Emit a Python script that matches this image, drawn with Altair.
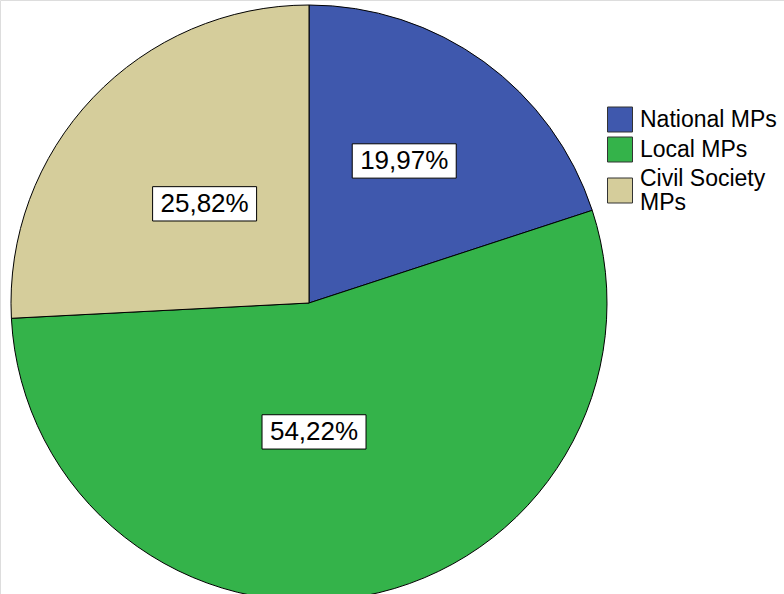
import altair as alt
import pandas as pd

categories = ["National MPs", "Local MPs", "Civil Society MPs"]
percentages = [19.97, 54.22, 25.82]
labels = ["19,97%", "54,22%", "25,82%"]
colors = ["#3f58ad", "#34b34a", "#d5cd9b"]

df = pd.DataFrame({"category": categories, "value": percentages,
                   "label": labels, "idx": list(range(len(categories)))})

CX, CY, R = 309, 303, 298
FONT = "Liberation Sans"

color_scale = alt.Scale(domain=categories, range=colors)

base = alt.Chart(df)

pie = base.mark_arc(outerRadius=R, stroke="black", strokeWidth=1).encode(
    theta=alt.Theta("value:Q", stack=True),
    color=alt.Color("category:N", scale=color_scale, sort=categories, legend=None),
    order=alt.Order("idx:Q"),
    x=alt.value(CX),
    y=alt.value(CY),
)

# label placement (styling: radius and small angular nudge per slice)
lab = base.transform_joinaggregate(total="sum(value)").transform_window(
    cum="sum(value)", sort=[alt.SortField("idx")], frame=[None, 0]
).transform_calculate(
    lr="datum.idx == 0 ? 171 : datum.idx == 1 ? 129 : 144",
    nudge="datum.idx == 0 ? -2.1 : datum.idx == 1 ? 8.3 : 0",
).transform_calculate(
    mid="(datum.cum - datum.value/2)/datum.total*2*PI + datum.nudge*PI/180",
).transform_calculate(
    px=f"{CX} + datum.lr*sin(datum.mid)",
    py=f"{CY} - datum.lr*cos(datum.mid)",
)

X = alt.X("px:Q", scale=None, axis=None)
Y = alt.Y("py:Q", scale=None, axis=None)

box = lab.mark_point(
    shape="M-1,-0.33L1,-0.33L1,0.33L-1,0.33Z", size=10816, filled=True,
    fill="white", stroke="black", strokeWidth=1, opacity=1, strokeOpacity=1,
).encode(x=X, y=Y)

txt = lab.mark_text(
    font=FONT, fontSize=26, color="black", align="center", baseline="middle",
).encode(x=X, y=Y, text="label:N")

# custom legend
leg = base.transform_calculate(
    ly="119.5 + datum.idx*30 + (datum.idx == 2 ? 11 : 0)",
    lx="620",
    tx="640",
    ltext="datum.category == 'Civil Society MPs' ? ['Civil Society', 'MPs'] : datum.category",
).transform_calculate(
    ty="datum.ly - (datum.idx == 2 ? 12 : 0)",
)

leg_sym = leg.mark_square(
    size=625, filled=True, stroke="#333333", strokeWidth=1, opacity=1, strokeOpacity=1,
).encode(
    x=alt.X("lx:Q", scale=None, axis=None),
    y=alt.Y("ly:Q", scale=None, axis=None),
    fill=alt.Fill("category:N", scale=color_scale, legend=None),
)

leg_txt = leg.mark_text(
    font=FONT, fontSize=23, color="black", align="left", baseline="middle",
    lineHeight=24,
).encode(
    x=alt.X("tx:Q", scale=None, axis=None),
    y=alt.Y("ty:Q", scale=None, axis=None),
    text="ltext:N",
)

chart = alt.layer(pie, box, txt, leg_sym, leg_txt).properties(
    width=784, height=594, autosize="none", padding=0
).configure_view(stroke=None).configure(background="white")

chart.save("out.html", embed_options={"renderer": "svg", "actions": False})
